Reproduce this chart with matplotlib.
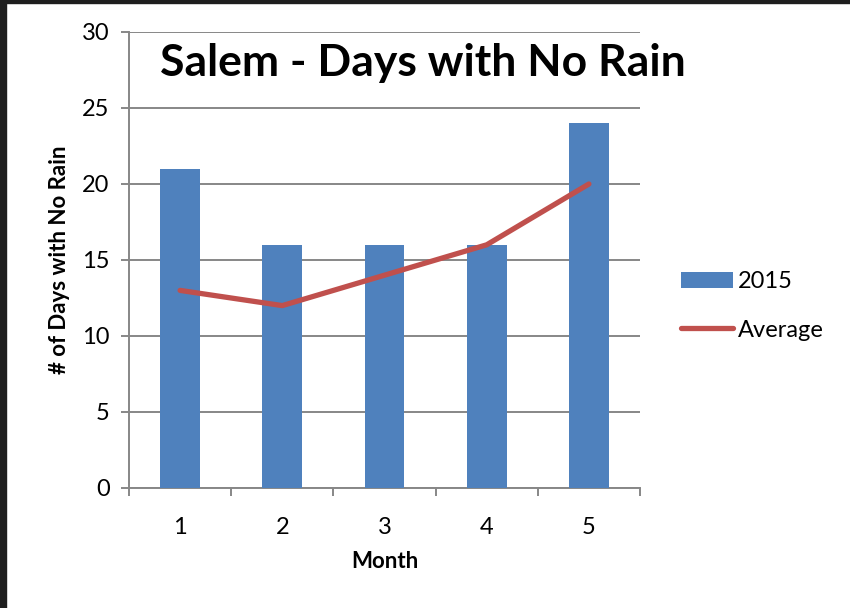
import numpy as np
import matplotlib.pyplot as plt
from matplotlib.patches import Rectangle

# ── Data ──
MONTHS = [1, 2, 3, 4, 5]
DAYS_2015 = [21, 16, 16, 16, 24]
DAYS_AVG = [13, 12, 14, 16, 20]

BAR_COLOR = "#4F81BD"
LINE_COLOR = "#C0504D"
GRID_COLOR = "#878787"

plt.rcParams["font.family"] = ["Lato", "DejaVu Sans"]

W, H = 850, 608
fig = plt.figure(figsize=(W / 100, H / 100), dpi=100)
fig.patch.set_facecolor("white")

# dark frame strips (left + top) of the screenshot
fig.patches.append(Rectangle((0, 0), 6 / W, 1, transform=fig.transFigure,
                             color="#1e1e1e", zorder=10))
fig.patches.append(Rectangle((0, 1 - 3 / H), 1, 3 / H, transform=fig.transFigure,
                             color="#1e1e1e", zorder=10))

ax = fig.add_axes([129 / W, 1 - 488 / H, (640 - 129) / W, (488 - 32) / H])

x = np.array(MONTHS)
bars = ax.bar(x, DAYS_2015, width=0.39, color=BAR_COLOR, label="2015", zorder=3)
line, = ax.plot(x, DAYS_AVG, color=LINE_COLOR, lw=3.8, solid_capstyle="round",
                solid_joinstyle="round", label="Average", zorder=4)

ax.set_xlim(0.5, 5.5)
ax.set_ylim(0, 30)
ax.set_yticks(np.arange(0, 31, 5))
ax.yaxis.grid(True, color=GRID_COLOR, lw=1.4, zorder=0)

# tick marks between categories, labels at centres
ax.set_xticks(np.arange(0.5, 5.6, 1.0))
ax.set_xticklabels([])
ax.set_xticks(x, minor=True)
ax.set_xticklabels([str(m) for m in MONTHS], minor=True)
ax.tick_params(axis="x", which="major", direction="out", length=6, width=1.4,
               color=GRID_COLOR)
ax.tick_params(axis="x", which="minor", length=0, pad=21, labelsize=17)
ax.tick_params(axis="y", direction="out", length=6, width=1.4, color=GRID_COLOR,
               labelsize=17, pad=8)

for s in ["top", "right"]:
    ax.spines[s].set_visible(False)
for s in ["left", "bottom"]:
    ax.spines[s].set_color(GRID_COLOR)
    ax.spines[s].set_linewidth(1.4)

fig.text(385 / W, 1 - 562 / H, "Month", fontsize=16, fontweight="bold",
         ha="center", va="center")
fig.text(60 / W, 1 - 260 / H, "# of Days with No Rain", fontsize=16,
         fontweight="bold", rotation=90, ha="center", va="center")

fig.text(160 / W, 1 - 63 / H, "Salem - Days with No Rain", fontsize=32,
         fontweight="bold", ha="left", va="center")

fig.legend(handles=[bars, line], labels=["2015", "Average"],
           loc="center left", bbox_to_anchor=(681 / W, 1 - 306 / H),
           borderpad=0, borderaxespad=0, frameon=False, fontsize=17,
           handlelength=2.2, handletextpad=0.2, labelspacing=1.15)

fig.savefig("out.png", dpi=100)
